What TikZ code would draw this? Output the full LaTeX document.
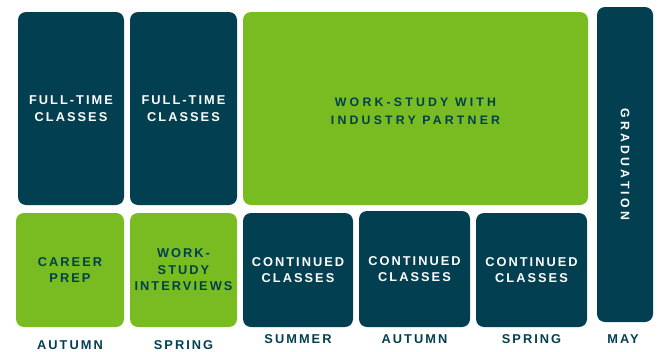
\documentclass[tikz,border=0pt]{standalone}
\usepackage{fontspec}
\newfontfamily\lblfont{Liberation Sans}[LetterSpace=16]
\newfontfamily\widefont{Liberation Sans}[LetterSpace=26]
\definecolor{deepteal}{HTML}{013F51}
\definecolor{leafgreen}{HTML}{78BC21}
\begin{document}
\begin{tikzpicture}
		[x=1pt,y=-1pt,every node/.style={inner sep=0pt,align=center,font=\lblfont\bfseries\fontsize{12.8}{16.5}\selectfont},
		 tealbox/.style={fill=deepteal,text=white,rounded corners=8pt},
		 greenbox/.style={fill=leafgreen,text=deepteal,rounded corners=8pt},
		 widetext/.style={font=\widefont\bfseries\fontsize{12.3}{18}\selectfont},
		 season/.style={text=deepteal}] % boxes are sized in pixels of the plan
		
		\useasboundingbox (0,0) rectangle (659,351);
		
		\node[tealbox,minimum width=106pt,minimum height=193pt] (ft1) at (71,108.5) {FULL-TIME\\CLASSES};
		\node[tealbox,minimum width=107pt,minimum height=193pt] (ft2) at (183.5,108.5) {FULL-TIME\\CLASSES};
		\node[greenbox,minimum width=345pt,minimum height=193pt] (ws) at (415.5,108.5) {};
		\node[widetext,text=deepteal] (wstxt) at ([yshift=-3pt]ws.center) {WORK-STUDY WITH\\INDUSTRY PARTNER};
		\node[tealbox,minimum width=56pt,minimum height=315pt] (grad) at (625,164.5) {};
		\node[widetext,text=white,rotate=-90] (gradtxt) at (grad.center) {GRADUATION};
		
		\node[greenbox,minimum width=108pt,minimum height=114pt] (cp) at (70,270) {CAREER\\PREP};
		\node[greenbox,minimum width=107pt,minimum height=114pt] (wsi) at (183.5,270) {WORK-\\STUDY\\INTERVIEWS};
		\node[tealbox,minimum width=110pt,minimum height=114pt] (cc1) at (298,270) {CONTINUED\\CLASSES};
		\node[tealbox,minimum width=111pt,minimum height=116pt] (cc2) at (414.5,269) {CONTINUED\\CLASSES};
		\node[tealbox,minimum width=111pt,minimum height=114pt] (cc3) at (531.5,270) {CONTINUED\\CLASSES};
		
		\node[season] (s1) at (70,345) {AUTUMN};
		\node[season] (s2) at (183.5,345) {SPRING};
		\node[season] (s3) at (298,339) {SUMMER};
		\node[season] (s4) at (414.5,339) {AUTUMN};
		\node[season] (s5) at (531.5,339) {SPRING};
		\node[season] (s6) at (623,339) {MAY};
		
	\end{tikzpicture}
\end{document}
